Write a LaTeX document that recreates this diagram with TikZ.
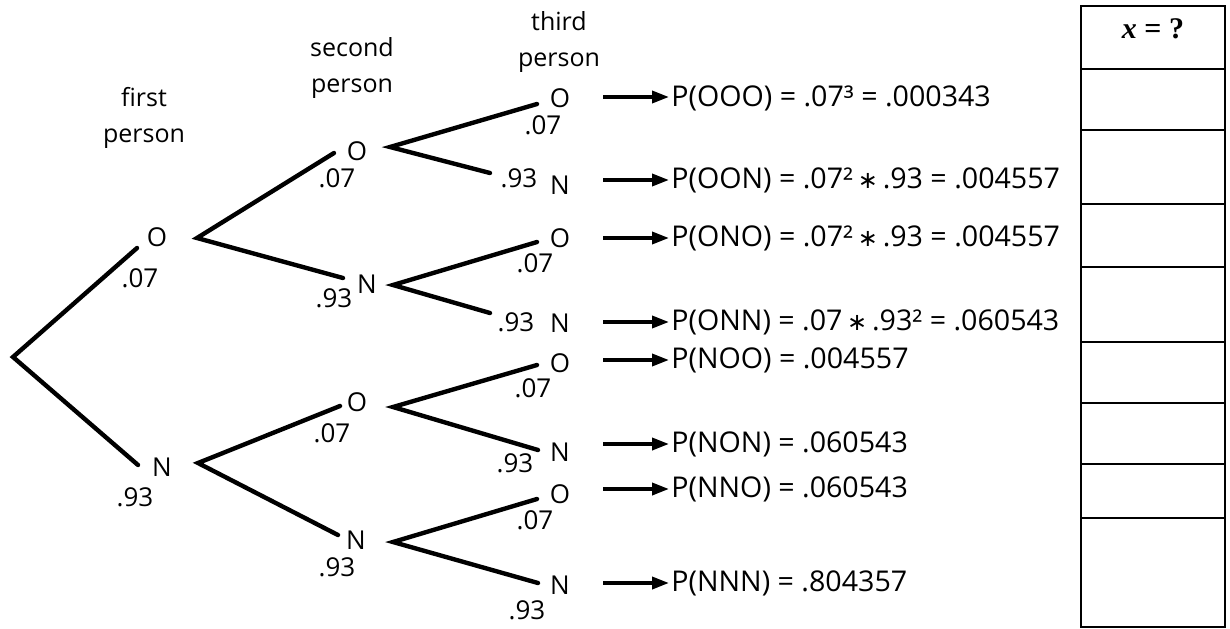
\documentclass[tikz,border=0pt]{standalone}
\usepackage{fontspec}
\setmainfont{Open Sans}
\newfontfamily\tabfont{Liberation Serif}
\newfontfamily\symfont{DejaVu Sans}
\usetikzlibrary{arrows.meta}
\newcommand{\mul}{\,{\symfont\fontsize{12}{14}\selectfont ∗}\,}
\begin{document}
\begin{tikzpicture}[x=0.5pt,y=-0.5pt,
  lab/.style={font=\fontsize{13}{16}\selectfont, inner sep=0pt},
  hdr/.style={font=\fontsize{12.5}{18}\selectfont, align=center, inner sep=0pt},
  frm/.style={font=\fontsize{14.3}{17}\selectfont, anchor=west, inner sep=1pt},
  br/.style={line width=2.2pt, line cap=round},
  arr/.style={line width=1.8pt, -{Triangle[length=8.5pt,width=6pt]}},
  tab/.style={line width=1pt}]
\useasboundingbox (0,0) rectangle (1230,628);

% headers
\node[hdr] (h1) at (144,118) {first\\person};
\node[hdr] (h2) at (352,68) {second\\person};
\node[hdr] (h3) at (559,42) {third\\person};

% level 1
\coordinate (r) at (13,357);
\coordinate (e1) at (137,248);
\coordinate (e2) at (138,465);
\draw[br] (e1) -- (r) -- (e2);
\node[lab] (l1O) at (157,237) {O};
\node[lab] (l1Op) at (140,278) {.07};
\node[lab] (l1N) at (162,467) {N};
\node[lab] (l1Np) at (135,497) {.93};

% level 2
\coordinate (vO) at (197,238);
\coordinate (vOa) at (334,153);
\coordinate (vOb) at (343,278);
\draw[br] (vOa) -- (vO) -- (vOb);
\node[lab] (l2OO) at (357,151) {O};
\node[lab] (l2OOp) at (337,178) {.07};
\node[lab] (l2ON) at (367,284) {N};
\node[lab] (l2ONp) at (334,298) {.93};

\coordinate (vN) at (198,463);
\coordinate (vNa) at (340,406);
\coordinate (vNb) at (338,535);
\draw[br] (vNa) -- (vN) -- (vNb);
\node[lab] (l2NO) at (357,402) {O};
\node[lab] (l2NOp) at (332,433) {.07};
\node[lab] (l2NN) at (356,540) {N};
\node[lab] (l2NNp) at (337,567) {.93};

% level 3
\coordinate (vOO) at (390,147);
\coordinate (vOOa) at (537,104);
\coordinate (vOOb) at (490,173);
\draw[br] (vOOa) -- (vOO) -- (vOOb);
\node[lab] (t1) at (560,98) {O};
\node[lab] (t1p) at (543,125) {.07};
\node[lab] (t2p) at (519,178) {.93};
\node[lab] (t2) at (560,185) {N};

\coordinate (vON) at (393,285);
\coordinate (vONa) at (537,242);
\coordinate (vONb) at (490,313);
\draw[br] (vONa) -- (vON) -- (vONb);
\node[lab] (t3) at (560,238) {O};
\node[lab] (t3p) at (535,263) {.07};
\node[lab] (t4p) at (516,322) {.93};
\node[lab] (t4) at (560,323) {N};

\coordinate (vNO) at (393,407);
\coordinate (vNOa) at (537,365);
\coordinate (vNOb) at (538,450);
\draw[br] (vNOa) -- (vNO) -- (vNOb);
\node[lab] (t5) at (560,363) {O};
\node[lab] (t5p) at (533,388) {.07};
\node[lab] (t6) at (560,452) {N};
\node[lab] (t6p) at (515,463) {.93};

\coordinate (vNN) at (393,542);
\coordinate (vNNa) at (537,499);
\coordinate (vNNb) at (538,583);
\draw[br] (vNNa) -- (vNN) -- (vNNb);
\node[lab] (t7) at (560,494) {O};
\node[lab] (t7p) at (535,520) {.07};
\node[lab] (t8) at (560,585) {N};
\node[lab] (t8p) at (527,610) {.93};

% formulas
\node[frm] (f1) at (669,98)  {P(OOO) = .07³ = .000343};
\node[frm] (f2) at (669,180) {P(OON) = .07²\mul.93 = .004557};
\node[frm] (f3) at (669,238) {P(ONO) = .07²\mul.93 = .004557};
\node[frm] (f4) at (669,322) {P(ONN) = .07\mul.93² = .060543};
\node[frm] (f5) at (669,360) {P(NOO) = .004557};
\node[frm] (f6) at (669,444) {P(NON) = .060543};
\node[frm] (f7) at (669,489) {P(NNO) = .060543};
\node[frm] (f8) at (669,583) {P(NNN) = .804357};

\foreach \i/\y in {1/97,2/180,3/238,4/322,5/360,6/444,7/489,8/583}{
  \coordinate (s\i) at (603,\y);
  \draw[arr] (s\i) -- (f\i.west |- s\i);
}

% table
\draw[tab] (1081,6) rectangle (1225,627);
\foreach \y in {69,130,204,267,342,403,464,518}
  \draw[tab] (1081,\y) -- (1225,\y);
\node[font=\tabfont\bfseries\fontsize{15}{18}\selectfont, inner sep=0pt] (hx) at (1153,29) {\textit{x} = ?};
\end{tikzpicture}
\end{document}
